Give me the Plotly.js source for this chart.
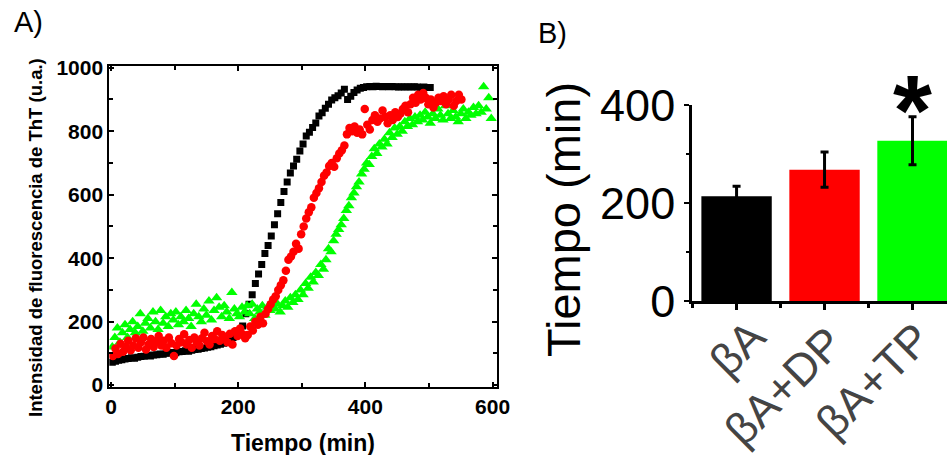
<!DOCTYPE html>
<html>
<head>
<meta charset="utf-8">
<script src="https://cdn.plot.ly/plotly-3.0.1.min.js"></script>
<style>html,body{margin:0;padding:0;background:#fff;}
#wrap{position:relative;width:947px;height:455px;overflow:hidden;background:#fff;}
#chartA,#chartB{position:absolute;left:0;top:0;width:947px;height:455px;}</style>
</head>
<body>
<div id="wrap"><div id="chartA"></div><div id="chartB"></div></div>
<script>
// Panel A: ThT fluorescence kinetics
const blackT = [2,7,12,17,22,27,32,37,42,47,52,57,62,67,72,77,82,87,92,97,102,107,112,117,122,127,132,137,142,147,152,157,162,167,172,177,182,187,192,197,202,207,212,217,222,227,232,237,242,247,252,257,262,267,272,277,282,287,292,297,302,307,312,317,322,327,332,337,342,347,352,357,362,367,372,377,382,387,392,397,402,407,412,417,422,427,432,437,442,447,452,457,462,467,472,477,482,487,492,497,502];
const blackV = [72,75,78,80,82,84,86,85,88,90,91,93,92,95,96,98,97,100,101,103,102,105,106,108,107,110,112,113,115,117,119,121,124,126,129,132,138,143,150,160,172,186,225,255,285,320,350,380,415,440,470,505,540,575,610,640,668,690,712,738,760,785,797,812,826,848,858,872,885,898,905,912,920,932,900,910,922,930,935,938,940,941,940,942,941,940,941,940,941,940,939,940,939,940,939,940,939,938,939,938,938];

const redT = [3,7,11,15,19,23,27,31,35,39,43,47,51,55,59,63,67,71,75,79,83,87,91,95,99,103,107,111,115,119,123,127,131,135,139,143,147,151,155,159,163,167,171,175,179,183,187,191,195,199,203,207,211,215,219,223,227,231,235,239,243,247,251,255,259,263,267,271,275,279,283,287,291,295,299,303,307,311,315,319,323,327,331,335,339,343,347,351,355,359,363,367,371,375,379,383,387,391,395,399,403,407,411,415,419,423,427,431,435,439,443,447,451,455,459,463,467,471,475,479,483,487,491,495,499,503,507,511,515,519,523,527,531,535,539,543,547,551];
const redV = [92,115,98,130,105,120,140,110,125,148,118,135,150,112,128,145,120,138,155,125,140,118,150,132,92,125,145,135,160,128,142,118,150,135,125,148,165,138,128,155,145,170,140,158,150,135,162,128,170,155,178,160,148,158,185,172,200,190,215,195,225,240,255,270,280,300,315,330,360,395,405,420,445,430,475,500,525,545,560,590,605,620,640,660,670,690,700,688,715,730,740,755,790,810,800,815,795,805,790,870,820,805,835,850,830,840,865,845,825,850,835,860,845,855,870,880,860,885,905,890,915,900,920,905,885,900,875,890,905,895,910,885,900,915,880,895,915,900];

const greenT = [2,6,10,14,18,22,26,30,34,38,42,46,50,54,58,62,66,70,74,78,82,86,90,94,98,102,106,110,114,118,122,126,130,134,138,142,146,150,154,158,162,166,170,174,178,182,186,190,194,198,202,206,210,214,218,222,226,230,234,238,242,246,250,254,258,262,266,270,274,278,282,286,290,294,298,302,306,310,314,318,322,326,330,334,338,342,346,350,354,358,362,366,370,374,378,382,386,390,394,398,402,406,410,414,418,422,426,430,434,438,442,446,450,454,458,462,466,470,474,478,482,486,490,494,498,502,506,510,514,518,522,526,530,534,538,542,546,550,554,558,562,566,570,574,578,582,586,590,594,598];
const greenV = [120,150,180,135,165,190,150,175,200,165,185,225,170,195,210,180,230,200,175,235,195,215,185,225,205,230,190,215,200,235,210,185,225,255,215,200,240,220,265,205,235,275,245,215,250,230,210,292,240,225,215,245,230,250,225,255,210,240,230,250,220,245,235,260,240,255,230,250,265,245,275,260,285,270,300,285,320,305,340,325,355,345,380,365,395,430,420,455,475,490,505,525,550,565,590,605,625,640,665,680,700,695,720,745,730,760,750,775,760,795,780,810,790,815,800,830,815,840,820,845,830,850,835,860,845,825,855,840,870,850,835,880,855,840,865,845,830,855,870,840,860,850,875,855,880,860,940,870,905,840];

// Panel B: lag time
const barCats = ['βA','βA+DP','βA+TP'];
const barPos = [0,1,2];
const barVals = [214,268,327];
const barErr = [20,36,49];
const barColors = ['#000000','#ff0000','#00ff00'];

const W = 947, H = 455;
const px = x => x / W;
const py = y => 1 - y / H;
const LIB = '"Liberation Sans", Arial, sans-serif';
const cfg = {displayModeBar:false, staticPlot:true};

// ---------- Panel A ----------
const tracesA = [
  {x: blackT, y: blackV, type:'scatter', mode:'markers',
   marker:{symbol:'square', size:7, color:'#000000'}, showlegend:false},
  {x: greenT, y: greenV, type:'scatter', mode:'markers',
   marker:{symbol:'triangle-up', size:10, color:'#00ff00'}, showlegend:false},
  {x: redT, y: redV, type:'scatter', mode:'markers',
   marker:{symbol:'circle', size:8.5, color:'#ff0000'}, showlegend:false}
];
const layoutA = {
  width: W, height: H, margin:{l:0,r:0,t:0,b:0},
  paper_bgcolor:'rgba(0,0,0,0)', plot_bgcolor:'rgba(0,0,0,0)', showlegend:false,
  xaxis:{domain:[px(109.3), px(496.7)], range:[-2.7,606.5],
    tickvals:[0,200,400,600], ticks:'inside', ticklen:5, tickwidth:2, tickcolor:'#000',
    minor:{dtick:100, tick0:0, ticks:'inside', ticklen:4, tickwidth:2, tickcolor:'#000'},
    showline:true, linewidth:2, linecolor:'#000', mirror:'ticks', showgrid:false, zeroline:false,
    tickfont:{family:LIB, size:21, color:'#000', weight:700}, automargin:false},
  yaxis:{domain:[py(386.7), py(65.5)], range:[-5,1007],
    tickvals:[0,200,400,600,800,1000], ticks:'inside', ticklen:5, tickwidth:2, tickcolor:'#000',
    minor:{dtick:100, tick0:0, ticks:'inside', ticklen:4, tickwidth:2, tickcolor:'#000'},
    showline:true, linewidth:2, linecolor:'#000', mirror:'ticks', showgrid:false, zeroline:false,
    tickfont:{family:LIB, size:21, color:'#000', weight:700}, automargin:false},
  annotations:[
    {text:'A)', xref:'paper', yref:'paper', x:px(12), y:py(22), xanchor:'left', yanchor:'middle', showarrow:false,
     font:{family:LIB, size:29, color:'#000'}},
    {text:'Intensidad de fluorescencia de ThT (u.a.)', xref:'paper', yref:'paper', x:px(35), y:py(238),
     xanchor:'center', yanchor:'middle', textangle:-90, showarrow:false,
     font:{family:LIB, size:18.5, color:'#000', weight:700}},
    {text:'Tiempo (min)', xref:'paper', yref:'paper', x:px(303), y:py(443),
     xanchor:'center', yanchor:'middle', showarrow:false,
     font:{family:LIB, size:23, color:'#000', weight:700}}
  ]
};

// ---------- Panel B ----------
const catLabelPx = [[737,348],[783,386],[873,380]];
const tracesB = [
  {x: barPos, y: barVals, type:'bar', xaxis:'x2', yaxis:'y2', width:0.8,
   marker:{color: barColors}, showlegend:false,
   error_y:{type:'data', array: barErr, visible:true, color:'#000', thickness:3, width:4}}
];
const layoutB = {
  width: W, height: H, margin:{l:0,r:0,t:0,b:0},
  paper_bgcolor:'rgba(0,0,0,0)', plot_bgcolor:'rgba(0,0,0,0)', showlegend:false,
  xaxis2:{domain:[px(691.7), 1], range:[-0.51,2.392], anchor:'y2',
    tickvals: barPos, ticktext: barCats, showticklabels:false,
    ticks:'outside', ticklen:6, tickwidth:2.5, tickcolor:'#000',
    minor:{dtick:0.5, tick0:0, ticks:'outside', ticklen:4, tickwidth:2.5, tickcolor:'#000'},
    showline:true, linewidth:2.5, linecolor:'#000', showgrid:false, zeroline:false, automargin:false},
  yaxis2:{domain:[py(301), py(105)], range:[0,400], anchor:'x2',
    tickvals:[0,200,400], ticks:'outside', ticklen:5, tickwidth:2.5, tickcolor:'#000',
    minor:{dtick:100, tick0:0, ticks:'outside', ticklen:3, tickwidth:2.5, tickcolor:'#000'},
    showline:true, linewidth:2.5, linecolor:'#000', showgrid:false, zeroline:false,
    tickfont:{family:LIB, size:45, color:'#000'}, automargin:false},
  annotations: barCats.map((c,i) => ({
    text:c, xref:'paper', yref:'paper', x:px(catLabelPx[i][0]), y:py(catLabelPx[i][1]),
    xanchor:'center', yanchor:'middle', textangle:-45, showarrow:false,
    font:{family:LIB, size:45}
  })).concat([
    {text:'B)', xref:'paper', yref:'paper', x:px(536), y:py(33), xanchor:'left', yanchor:'middle', showarrow:false,
     font:{family:LIB, size:29, color:'#000'}},
    {text:'Tiempo (min)', xref:'paper', yref:'paper', x:px(563), y:py(220),
     xanchor:'center', yanchor:'middle', textangle:-90, showarrow:false,
     font:{family:LIB, size:47, color:'#000'}},
    {text:'<b>*</b>', xref:'paper', yref:'paper', x:px(912), y:py(110), xanchor:'center', yanchor:'middle', showarrow:false,
     font:{family:LIB, size:100, color:'#000'}}
  ])
};

Plotly.newPlot('chartA', tracesA, layoutA, cfg);
Plotly.newPlot('chartB', tracesB, layoutB, cfg);
</script>
</body>
</html>
